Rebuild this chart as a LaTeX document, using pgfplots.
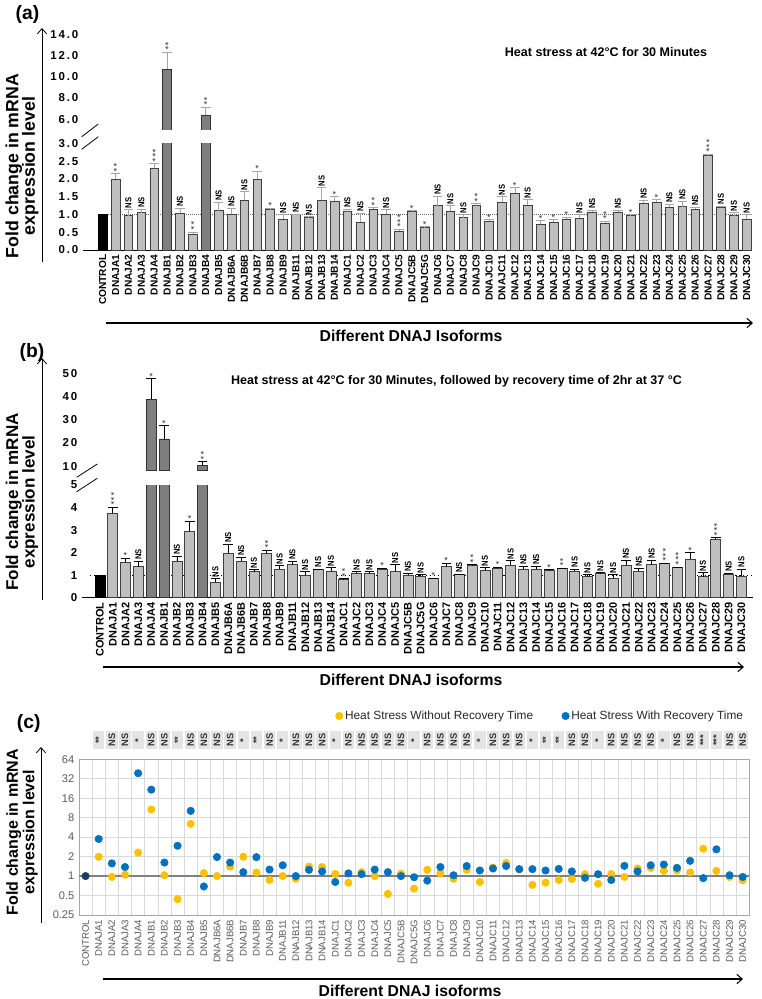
\documentclass[border=0pt]{standalone}
\usepackage{pgfplots}
\pgfplotsset{compat=1.18}
\usepackage{pgfplotstable}
\usepackage{fontspec}
\setmainfont{Liberation Sans}
\newfontfamily\spacedfont[LetterSpace=16]{Liberation Sans}
\usetikzlibrary{arrows.meta}

\definecolor{barlight}{HTML}{BFBFBF}
\definecolor{bardark}{HTML}{7F7F7F}
\definecolor{errgray}{HTML}{A6A6A6}
\definecolor{orng}{HTML}{FFC000}
\definecolor{blu}{HTML}{0070C0}
\definecolor{navy}{HTML}{1F3864}
\definecolor{txtgray}{HTML}{595959}
\definecolor{gridgray}{HTML}{D9D9D9}
\definecolor{boxgray}{HTML}{E4E4E4}

% x: position, a/ae/la: 30 min heat stress (value, upper error, significance), ta: bar type
% b/be/lb/tb: heat stress + 2 h recovery, lc: significance between the two (panel c)
\pgfplotstableread{
x name a ae la ta b be lb tb lc
0 CONTROL 1.00 0.00 {} 0 1.00 0.00 {} 0 {}
1 DNAJA1 1.99 0.16 ${*}{*}$ 1 3.75 0.26 ${*}{*}{*}$ 1 **
2 DNAJA2 0.97 0.16 NS 1 1.57 0.19 ${*}$ 1 NS
3 DNAJA3 1.05 0.10 NS 1 1.38 0.24 NS 1 NS
4 DNAJA4 2.31 0.12 ${*}{*}{*}$ 1 38.9 8.9 ${*}$ 2 *
5 DNAJB1 10.7 1.6 ${*}{*}$ 2 21.7 5.8 ${*}$ 2 NS
6 DNAJB2 1.03 0.15 NS 1 1.62 0.23 NS 1 NS
7 DNAJB3 0.44 0.07 ${*}{*}$ 1 2.94 0.46 ${*}$ 1 **
8 DNAJB4 6.41 0.75 ${*}{*}$ 2 10.2 1.7 ${*}{*}$ 2 NS
9 DNAJB5 1.11 0.24 NS 1 0.69 0.16 NS 1 NS
10 DNAJB6A 1.00 0.18 NS 1 1.97 0.40 NS 1 NS
11 DNAJB6B 1.40 0.24 NS 1 1.62 0.19 NS 1 NS
12 DNAJB7 1.99 0.23 ${*}$ 1 1.15 0.10 NS 1 *
13 DNAJB8 1.13 0.04 ${*}$ 1 1.96 0.14 ${*}{*}$ 1 **
14 DNAJB9 0.87 0.13 NS 1 1.26 0.17 NS 1 NS
15 DNAJB11 1.00 0.01 NS 1 1.47 0.16 NS 1 *
16 DNAJB12 0.91 0.03 NS 1 1.00 0.15 NS 1 NS
17 DNAJB13 1.40 0.36 NS 1 1.25 0.03 NS 1 NS
18 DNAJB14 1.38 0.12 ${*}$ 1 1.18 0.16 NS 1 NS
19 DNAJC1 1.08 0.07 NS 1 0.81 0.04 ${*}{*}$ 1 *
20 DNAJC2 0.79 0.24 NS 1 1.10 0.05 NS 1 NS
21 DNAJC3 1.15 0.04 ${*}{*}$ 1 1.07 0.08 NS 1 NS
22 DNAJC4 1.00 0.14 NS 1 1.26 0.05 ${*}$ 1 NS
23 DNAJC5 0.53 0.05 ${*}{*}{*}$ 1 1.15 0.32 NS 1 NS
24 DNAJC5B 1.09 0.02 ${*}$ 1 1.00 0.10 NS 1 NS
25 DNAJC5G 0.64 0.02 ${*}$ 1 0.96 0.07 NS 1 *
26 DNAJC6 1.25 0.26 NS 1 0.85 0.03 ${*}$ 1 NS
27 DNAJC7 1.10 0.15 NS 1 1.38 0.15 ${*}$ 1 NS
28 DNAJC8 0.91 0.09 NS 1 1.03 0.01 NS 1 NS
29 DNAJC9 1.25 0.06 ${*}{*}$ 1 1.43 0.03 ${*}{*}$ 1 NS
30 DNAJC10 0.81 0.05 ${*}$ 1 1.22 0.12 NS 1 *
31 DNAJC11 1.35 0.15 NS 1 1.31 0.04 ${*}$ 1 NS
32 DNAJC12 1.59 0.17 ${*}$ 1 1.43 0.22 NS 1 NS
33 DNAJC13 1.27 0.15 NS 1 1.28 0.12 NS 1 NS
34 DNAJC14 0.73 0.10 ${*}$ 1 1.28 0.12 NS 1 *
35 DNAJC15 0.79 0.07 ${*}$ 1 1.22 0.03 ${*}$ 1 **
36 DNAJC16 0.87 0.05 ${*}$ 1 1.29 0.03 ${*}{*}$ 1 **
37 DNAJC17 0.90 0.10 NS 1 1.18 0.10 NS 1 NS
38 DNAJC18 1.07 0.05 NS 1 0.94 0.09 NS 1 NS
39 DNAJC19 0.76 0.05 ${*}{*}$ 1 1.07 0.05 NS 1 *
40 DNAJC20 1.07 0.05 NS 1 0.87 0.16 NS 1 NS
41 DNAJC21 0.97 0.03 ${*}$ 1 1.44 0.22 NS 1 NS
42 DNAJC22 1.31 0.09 NS 1 1.18 0.14 NS 1 NS
43 DNAJC23 1.34 0.08 ${*}$ 1 1.47 0.19 NS 1 NS
44 DNAJC24 1.20 0.09 NS 1 1.51 0.02 ${*}{*}{*}$ 1 *
45 DNAJC25 1.22 0.15 NS 1 1.34 0.03 ${*}{*}{*}$ 1 NS
46 DNAJC26 1.14 0.07 NS 1 1.72 0.29 ${*}$ 1 NS
47 DNAJC27 2.65 0.04 ${*}{*}{*}$ 1 0.93 0.19 NS 1 ***
48 DNAJC28 1.20 0.04 NS 1 2.59 0.07 ${*}{*}{*}$ 1 ***
49 DNAJC29 0.97 0.08 NS 1 1.03 0.07 NS 1 NS
50 DNAJC30 0.86 0.14 NS 1 0.97 0.31 NS 1 NS
}\datatable

\pgfplotsset{
  barpanel/.style={
    scale only axis, anchor=south west,
    axis lines*=left, y axis line style={draw=none},
    major tick length=0pt, unbounded coords=discard,
    /pgf/number format/assume math mode=true,
    yticklabel style={font=\spacedfont\bfseries\fontsize{8.6}{9}\selectfont},
  },
  dotlegend/.style={legend image code/.code={\draw[##1] plot coordinates {(0pt,0pt)};}},
}

% #1 value column, #2 error column, #3 type column, #4 error colour, #5 bar width, #6 lower limit
\newcommand{\plotbars}[6]{%
  \addplot[ybar, bar width=#5, bar shift=0pt, fill=black, draw=black]
    table[x=x, y expr={(\thisrow{#3}==0 && \thisrow{#1}>#6) ? \thisrow{#1} : nan}] {\datatable};
  \addplot[ybar, bar width=#5, bar shift=0pt, fill=barlight, draw=black!75, line width=0.5pt,
    error bars/.cd, y dir=plus, y explicit, error bar style={#4, line width=0.5pt},
    error mark options={rotate=90, #4, mark size=3.6pt, line width=0.5pt}]
    table[x=x, y expr={(\thisrow{#3}==1 && \thisrow{#1}>#6) ? \thisrow{#1} : nan}, y error=#2] {\datatable};
  \addplot[ybar, bar width=#5, bar shift=0pt, fill=bardark, draw=black!80, line width=0.5pt,
    error bars/.cd, y dir=plus, y explicit, error bar style={#4, line width=0.5pt},
    error mark options={rotate=90, #4, mark size=3.6pt, line width=0.5pt}]
    table[x=x, y expr={(\thisrow{#3}==2 && \thisrow{#1}>#6) ? \thisrow{#1} : nan}, y error=#2] {\datatable};
}
% #1 value, #2 error, #3 label column, #4 low limit, #5 high limit
\newcommand{\plotsig}[5]{%
  \addplot[only marks, mark=none, nodes near coords, point meta=explicit symbolic,
    every node near coord/.append style={rotate=90, xscale=0.88, anchor=west, inner sep=1pt,
      font=\bfseries\fontsize{6.5}{7}\selectfont}]
    table[x=x, y expr={(\thisrow{x}>0 && \thisrow{#1}+\thisrow{#2}>#4 && \thisrow{#1}+\thisrow{#2}<#5) ? \thisrow{#1}+\thisrow{#2} : nan}, meta=#3] {\datatable};
}

\begin{document}
\begin{tikzpicture}[x=0.75pt, y=-0.75pt]
\path[use as bounding box] (0,0) rectangle (762,999);
\coordinate (aLow) at (83,250);
\coordinate (aUp) at (83,129.9);
\coordinate (bLow) at (82,597.7);
\coordinate (bUp) at (82,470.7);
\coordinate (cAx) at (79,915);

% ---------------- panel (a) ----------------
\begin{axis}[barpanel, at={(aLow)}, width=501.75pt, height=80pt,
  xmin=-1.53, xmax=50.41, ymin=0, ymax=3, ytick={0,0.5,1,1.5,2,2.5,3},
  yticklabel style={/pgf/number format/.cd, fixed, fixed zerofill, precision=1},
  xtick={0,...,50}, xticklabels from table={\datatable}{name},
  xticklabel style={rotate=90, anchor=east, font=\bfseries\fontsize{7.6}{8}\selectfont},
  x axis line style={black, line width=0.6pt}]
  \draw[densely dotted, black!60, line width=0.5pt] (axis cs:0.4,1) -- (axis cs:50.41,1);
  \plotbars{a}{ae}{ta}{errgray}{6.5pt}{-1}
  \plotsig{a}{ae}{la}{0}{3}
\end{axis}
\begin{axis}[barpanel, hide x axis, at={(aUp)}, width=501.75pt, height=75.7pt,
  xmin=-1.53, xmax=50.41, ymin=5, ymax=14.5, ytick={6,8,10,12,14},
  yticklabel style={/pgf/number format/.cd, fixed, fixed zerofill, precision=1}]
  \plotbars{a}{ae}{ta}{errgray}{6.5pt}{5}
  \plotsig{a}{ae}{la}{5}{14.5}
\end{axis}

% ---------------- panel (b) ----------------
\begin{axis}[barpanel, at={(bLow)}, width=503.25pt, height=84.5pt,
  xmin=-1.40, xmax=50.9, ymin=0, ymax=5, ytick={0,1,2,3,4,5},
  xtick={0,...,50}, xticklabels from table={\datatable}{name},
  xticklabel style={rotate=90, anchor=east, font=\bfseries\fontsize{8.2}{9}\selectfont},
  x axis line style={black, line width=0.9pt}]
  \draw[dotted, black, line width=0.9pt] (axis cs:-0.8,1) -- (axis cs:50.9,1);
  \plotbars{b}{be}{tb}{black}{7.5pt}{-1}
  \plotsig{b}{be}{lb}{0}{5}
\end{axis}
\begin{axis}[barpanel, hide x axis, at={(bUp)}, width=503.25pt, height=81.7pt,
  xmin=-1.40, xmax=50.9, ymin=8, ymax=55, ytick={10,20,30,40,50}]
  \plotbars{b}{be}{tb}{black}{7.5pt}{8}
  \plotsig{b}{be}{lb}{8}{55}
\end{axis}

% ---------------- panel (c) ----------------
\begin{axis}[scale only axis, anchor=south west, at={(cAx)}, width=502.7pt, height=116.8pt,
  xmin=-0.5, xmax=50.5, ymode=log, log basis y=2, ymin=0.25, ymax=64,
  ytick={0.25,0.5,1,2,4,8,16,32,64}, yticklabels={0.25,0.5,1,2,4,8,16,32,64},
  yticklabel style={font=\fontsize{8.3}{9}\selectfont, color=txtgray},
  xtick={0,...,50}, xticklabels from table={\datatable}{name},
  xticklabel style={rotate=90, anchor=east, font=\fontsize{7.2}{8}\selectfont, color=txtgray},
  minor xtick={0.5,1.5,...,49.5}, xminorgrids, ymajorgrids,
  major grid style={gridgray, line width=0.5pt}, minor grid style={gridgray, line width=0.5pt},
  extra y ticks={1}, extra y tick labels={},
  extra y tick style={grid=major, major grid style={black!50, line width=1.1pt}},
  axis line style={black!35, line width=0.6pt}, major tick length=0pt, minor tick length=0pt,
  clip=false, unbounded coords=discard,
  legend style={at={(1.0,1.278)}, anchor=east, draw=none, fill=none,
    font=\fontsize{8.9}{10}\selectfont\color{black!85}, legend columns=2,
    nodes={inner sep=1.5pt},
    /tikz/every even column/.append style={column sep=20pt}}]
  \addplot[only marks, mark=*, mark size=2.8pt, color=orng, dotlegend]
    table[x=x, y expr={\thisrow{x}>0 ? \thisrow{a} : nan}] {\datatable};
  \addlegendentry{Heat Stress Without Recovery Time}
  \addplot[only marks, mark=*, mark size=2.8pt, color=blu, dotlegend]
    table[x=x, y expr={\thisrow{x}>0 ? \thisrow{b} : nan}] {\datatable};
  \addlegendentry{Heat Stress With Recovery Time}
  \addplot[only marks, mark=*, mark size=2.8pt, color=navy, forget plot]
    table[x=x, y expr={\thisrow{x}==0 ? \thisrow{a} : nan}] {\datatable};
  \addplot[only marks, mark=none, forget plot, nodes near coords, point meta=explicit symbolic,
    every node near coord/.append style={rotate=90, anchor=center, fill=boxgray,
      minimum width=13.5pt, minimum height=8.5pt, inner sep=0pt,
      font=\bfseries\fontsize{7}{7}\selectfont, text=black!80}]
    table[x=x, y expr={\thisrow{x}>0 ? 126.3 : nan}, meta=lc] {\datatable};
\end{axis}

% ---------------- decorations and text ----------------
\tikzset{barb/.style={-{Straight Barb[length=4pt,width=7pt]}}}
\draw[barb, line width=0.6pt] (42,262) -- (42,28);
\draw[barb, line width=0.6pt] (42,600) -- (42,358);
\draw[barb, line width=0.6pt] (41,923) -- (41,747);
\draw[barb, line width=0.8pt] (106,323) -- (753,323);
\draw[barb, line width=0.8pt] (103,667) -- (744,667);
\draw[barb, line width=0.8pt] (103,979) -- (743,979);

\draw[line width=0.6pt] (81.7,136.7) -- (98.3,124);
\draw[line width=0.6pt] (81.7,149.3) -- (98.3,136.7);
\draw[line width=0.6pt] (76.7,477.3) -- (97.3,464);
\draw[line width=0.6pt] (76.7,491.7) -- (97.3,478.3);

\node[font=\bfseries\fontsize{14.5}{16}\selectfont] at (27.5,15) {(a)};
\node[font=\bfseries\fontsize{14.5}{16}\selectfont] at (32,352) {(b)};
\node[font=\bfseries\fontsize{14.5}{16}\selectfont] at (28.7,723) {(c)};

\node[font=\bfseries\fontsize{9.4}{11}\selectfont] at (606,52) {Heat stress at 42°C for 30 Minutes};
\node[font=\bfseries\fontsize{9.4}{11}\selectfont] at (456.5,381) {Heat stress at 42°C for 30 Minutes, followed by recovery time of 2hr at 37 °C};

\node[font=\bfseries\fontsize{11.8}{13}\selectfont] at (411,336) {Different DNAJ Isoforms};
\node[font=\bfseries\fontsize{11.8}{13}\selectfont] at (411,680) {Different DNAJ isoforms};
\node[font=\bfseries\fontsize{11.8}{13}\selectfont] at (410,991) {Different DNAJ isoforms};

\node[rotate=90, align=center, font=\bfseries\fontsize{13.3}{12.5}\selectfont] at (22,166) {Fold change in mRNA\\expression level};
\node[rotate=90, align=center, font=\bfseries\fontsize{12.8}{12.5}\selectfont] at (22,502) {Fold change in mRNA\\expression level};
\node[rotate=90, align=center, font=\bfseries\fontsize{12}{12.5}\selectfont] at (22,832) {Fold change in mRNA\\expression level};
\end{tikzpicture}
\end{document}
